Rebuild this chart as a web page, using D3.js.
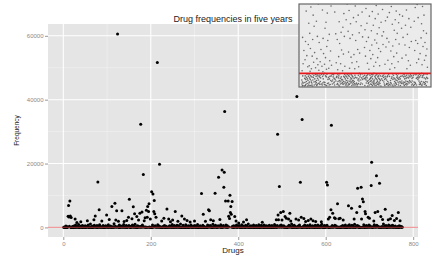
<!DOCTYPE html>
<html>
<head>
<meta charset="utf-8">
<script src="https://cdn.jsdelivr.net/npm/d3@7"></script>
<style>
  body { margin: 0; background: #fff; }
  text { font-family: "Liberation Sans", Arial, sans-serif; }
</style>
</head>
<body>
<div id="chart"></div>
<script>
// background frequency of every drug (ids 1..775)
const lowFreq = [
  60, 20, 150, 0, 40, 480, 100, 5, 220, 30, 650, 90, 15, 350, 45, 120, 0, 550, 75, 35, 260, 100, 5, 440, 65,
  15, 130, 740, 45, 85, 10, 300, 115, 25, 950, 70, 0, 190, 55, 20, 410, 95, 10, 620, 30, 110, 200, 40, 80, 520,
  5, 145, 65, 370, 25, 100, 780, 5, 50, 170, 35, 1050, 90, 20, 295, 120, 0, 460, 60, 30, 700, 85, 15, 235, 105,
  40, 590, 10, 125, 330, 70, 0, 860, 45, 115, 180, 20, 400, 95, 35, 640, 55, 5, 270, 110, 15, 490, 75, 40, 210,
  100, 25, 810, 60, 5, 155, 120, 430, 30, 90, 680, 15, 105, 240, 45, 1150, 80, 0, 360, 65, 20, 540, 115, 35, 195,
  55, 10, 750, 95, 30, 140, 470, 70, 0, 320, 110, 40, 910, 50, 15, 215, 125, 35, 570, 80, 10, 280, 100, 45, 630,
  20, 90, 165, 5, 390, 115, 50, 720, 25, 105, 450, 65, 0, 990, 85, 30, 175, 120, 10, 510, 70, 40, 250, 95, 670,
  15, 125, 345, 55, 25, 790, 100, 5, 205, 80, 45, 600, 115, 20, 425, 60, 35, 1020, 90, 5, 300, 110, 30, 560, 75,
  40, 185, 10, 730, 105, 65, 380, 20, 120, 515, 50, 0, 230, 85, 35, 840, 95, 15, 460, 70, 25, 160, 115, 45, 690,
  80, 10, 290, 100, 30, 635, 55, 0, 420, 120, 40, 775, 75, 20, 220, 110, 50, 530, 90, 5, 355, 65, 25, 950, 105,
  35, 150, 60, 580, 15, 125, 315, 45, 95, 715, 25, 5, 490, 85, 115, 195, 40, 1100, 70, 10, 265, 100, 30, 655, 55,
  20, 430, 90, 0, 810, 115, 35, 205, 75, 50, 540, 10, 105, 335, 65, 25, 745, 95, 15, 175, 120, 45, 470, 60, 5,
  615, 80, 30, 285, 110, 40, 880, 70, 5, 230, 100, 50, 505, 20, 90, 395, 55, 35, 675, 115, 10, 310, 75, 45, 560,
  25, 170, 105, 10, 790, 85, 40, 450, 65, 20, 635, 120, 30, 240, 80, 0, 1005, 95, 15, 360, 60, 35, 700, 105, 25,
  190, 70, 50, 525, 5, 125, 325, 45, 90, 845, 15, 110, 415, 60, 30, 595, 100, 5, 255, 80, 40, 730, 120, 20, 485,
  65, 35, 650, 95, 10, 210, 115, 50, 910, 75, 25, 380, 105, 5, 555, 70, 40, 295, 85, 20, 765, 60, 30, 440, 100,
  15, 620, 80, 45, 225, 110, 0, 825, 55, 25, 480, 90, 35, 165, 120, 10, 690, 65, 30, 350, 105, 45, 1075, 75, 20,
  270, 85, 55, 545, 15, 115, 405, 40, 95, 735, 5, 70, 310, 110, 30, 600, 50, 20, 195, 125, 40, 870, 60, 10, 455,
  95, 25, 665, 80, 50, 235, 105, 5, 795, 70, 35, 425, 115, 20, 515, 60, 45, 280, 90, 15, 710, 100, 30, 370, 75,
  10, 575, 120, 40, 200, 65, 25, 940, 100, 55, 340, 80, 0, 630, 110, 35, 175, 70, 15, 495, 95, 45, 755, 55, 30,
  410, 105, 10, 535, 85, 40, 300, 120, 20, 820, 65, 5, 215, 95, 35, 645, 75, 50, 385, 110, 15, 1040, 60, 25, 470,
  90, 20, 680, 100, 45, 255, 80, 5, 585, 115, 30, 435, 70, 15, 725, 95, 40, 165, 125, 10, 505, 55, 35, 345, 105,
  25, 785, 75, 50, 220, 90, 10, 610, 120, 30, 395, 65, 0, 850, 105, 40, 290, 80, 20, 550, 110, 45, 180, 70, 5,
  655, 95, 35, 460, 60, 25, 740, 115, 15, 325, 85, 55, 520, 100, 20, 1010, 75, 40, 240, 120, 10, 625, 65, 30, 415,
  85, 15, 705, 105, 45, 185, 70, 5, 800, 95, 35, 365, 115, 25, 570, 60, 50, 275, 100, 10, 690, 80, 30, 480, 120,
  20, 540, 90, 40, 210, 110, 5, 895, 70, 35, 405, 95, 15, 600, 115, 50, 305, 75, 25, 750, 105, 10, 170, 85, 45,
  510, 65, 20, 830, 120, 40, 250, 80, 5, 665, 100, 30, 380, 55, 15, 965, 90, 45, 205, 110, 25, 580, 70, 35, 440,
  100, 10, 720, 75, 50, 295, 115, 20, 530, 85, 30, 860, 105, 5, 190, 65, 40, 640, 120, 15, 350, 95, 35, 775, 60,
  25, 450, 110, 45, 595, 75, 10, 230, 120, 40, 805, 85, 20, 420, 65, 30, 675, 100, 5, 265, 80, 50, 500, 115, 15,
  735, 90, 35, 320, 60, 25, 1055, 105, 15, 475, 70, 45, 615, 125, 5, 210, 85, 30, 785, 100, 20, 390, 60, 40, 545,
  110, 10, 700, 80, 35, 255, 95, 15, 430, 120, 25, 655, 70, 45, 300, 105, 5, 520, 85, 20, 365, 115, 40, 185, 75
];

// drugs that stand out above the band
const peakDrug = [
  11, 12, 13, 15, 16, 18, 27, 31, 40, 55, 70, 73, 79, 82, 88, 99, 105, 111, 118, 120,
  122, 124, 126, 134, 139, 145, 149, 151, 157, 160, 163, 168, 172, 175, 177, 180, 183, 185, 187, 190,
  192, 193, 195, 196, 199, 202, 205, 207, 208, 209, 212, 215, 220, 225, 230, 237, 241, 245, 250, 256,
  262, 271, 277, 283, 290, 300, 316, 320, 325, 332, 334, 337, 343, 347, 355, 358, 363, 367, 368, 369,
  371, 377, 378, 380, 381, 382, 383, 384, 386, 392, 395, 401, 412, 419, 455, 487, 490, 491, 492, 494,
  497, 500, 503, 507, 510, 515, 518, 520, 532, 534, 538, 542, 544, 546, 550, 554, 560, 566, 571, 577,
  590, 602, 604, 606, 609, 612, 613, 616, 620, 622, 627, 630, 633, 640, 652, 659, 665, 671, 673, 678,
  681, 682, 684, 686, 690, 691, 697, 700, 704, 705, 710, 713, 716, 719, 723, 726, 730, 736, 743, 748,
  752, 757, 762, 766, 770
];
const peakFreq = [
  3500, 6850, 3300, 8300, 3600, 3100, 2600, 1550, 1800, 2100, 2400, 3600, 14250, 5500, 2000, 3900, 2500, 6550, 7600, 2300,
  5200, 60600, 1900, 5200, 1850, 2200, 3200, 8800, 2700, 6500, 4300, 3400, 2300, 4450, 32300, 4800, 16600, 2100, 3000, 5400,
  3200, 6550, 5000, 7400, 2600, 11200, 10500, 5000, 8400, 4300, 3200, 51650, 19800, 2000, 2900, 5800, 2600, 1800, 2300, 5000,
  1900, 3600, 2600, 2200, 1700, 2000, 10600, 4150, 1900, 5500, 5200, 2400, 2100, 10700, 15700, 2500, 18000, 12600, 17300, 36300,
  8300, 8300, 3500, 2800, 10100, 4650, 6550, 4150, 8100, 3400, 2000, 1350, 1700, 2400, 1600, 2400, 29150, 3900, 2400, 12800,
  4650, 2300, 5000, 3400, 2900, 2600, 4450, 2000, 2600, 41000, 2300, 14150, 3200, 33800, 2800, 1850, 2150, 2600, 2100, 1850,
  1800, 14150, 13300, 2600, 3200, 5500, 31970, 4450, 3000, 2800, 7400, 2700, 2900, 2300, 6750, 6000, 2600, 4650, 12300, 6550,
  12600, 2600, 8900, 8000, 5000, 4250, 3200, 2900, 13100, 20400, 2000, 4650, 16200, 5000, 13800, 3400, 2500, 5700, 2400, 2700,
  3700, 2200, 2800, 4650, 2100
];

const xTicks = [0, 200, 400, 600, 800];
const yTicks = [0, 20000, 40000, 60000];
const thresholdFreq = 125;

const peaks = new Map(peakDrug.map((d, i) => [d, peakFreq[i]]));
const data = lowFreq.map((f, i) => ({ drug: i + 1, freq: peaks.has(i + 1) ? peaks.get(i + 1) : f }));

const W = 438, H = 260;
const panel = { left: 48, right: 418, top: 24, bottom: 237 };

const svg = d3.select("#chart").append("svg")
  .attr("width", W)
  .attr("height", H);

const x = d3.scaleLinear().domain([-35, 811]).range([panel.left, panel.right]);
const y = d3.scaleLinear().domain([-3000, 63700]).range([panel.bottom, panel.top]);

// panel background
svg.append("rect")
  .attr("x", panel.left).attr("y", panel.top)
  .attr("width", panel.right - panel.left)
  .attr("height", panel.bottom - panel.top)
  .attr("fill", "#e5e5e5");

// minor grid
const minorX = [100, 300, 500, 700];
const minorY = [10000, 30000, 50000];
svg.append("g").selectAll("line").data(minorX).enter().append("line")
  .attr("x1", d => x(d)).attr("x2", d => x(d))
  .attr("y1", panel.top).attr("y2", panel.bottom)
  .attr("stroke", "#f2f2f2").attr("stroke-width", 0.6);
svg.append("g").selectAll("line").data(minorY).enter().append("line")
  .attr("y1", d => y(d)).attr("y2", d => y(d))
  .attr("x1", panel.left).attr("x2", panel.right)
  .attr("stroke", "#f2f2f2").attr("stroke-width", 0.6);

// major grid
svg.append("g").selectAll("line").data(xTicks).enter().append("line")
  .attr("x1", d => x(d)).attr("x2", d => x(d))
  .attr("y1", panel.top).attr("y2", panel.bottom)
  .attr("stroke", "#fff").attr("stroke-width", 1.1);
svg.append("g").selectAll("line").data(yTicks).enter().append("line")
  .attr("y1", d => y(d)).attr("y2", d => y(d))
  .attr("x1", panel.left).attr("x2", panel.right)
  .attr("stroke", "#fff").attr("stroke-width", 1.1);

// axes
const xAxis = svg.append("g")
  .attr("transform", "translate(0," + panel.bottom + ")")
  .call(d3.axisBottom(x).tickValues(xTicks).tickSize(3).tickPadding(1.5));
const yAxis = svg.append("g")
  .attr("transform", "translate(" + panel.left + ",0)")
  .call(d3.axisLeft(y).tickValues(yTicks).tickSize(3).tickPadding(1.5).tickFormat(d3.format("d")));
[xAxis, yAxis].forEach(a => {
  a.select(".domain").remove();
  a.selectAll("line").attr("stroke", "#999");
  a.selectAll("text").attr("fill", "#8a8a8a").style("font-size", "6px");
});

// points
svg.append("g").selectAll("circle").data(data).enter().append("circle")
  .attr("cx", d => x(d.drug))
  .attr("cy", d => y(d.freq))
  .attr("r", 1.5)
  .attr("fill", "#000");

// zero line
svg.append("line")
  .attr("x1", panel.left).attr("x2", panel.right)
  .attr("y1", y(0)).attr("y2", y(0))
  .attr("stroke", "#e34a4a").attr("stroke-opacity", 0.55).attr("stroke-width", 1.2);

// titles
svg.append("text")
  .attr("x", 233).attr("y", 22)
  .attr("text-anchor", "middle")
  .style("font-size", "9px")
  .attr("fill", "#222")
  .text("Drug frequencies in five years");

svg.append("text")
  .attr("x", 233).attr("y", 253)
  .attr("text-anchor", "middle")
  .style("font-size", "8px")
  .attr("fill", "#222")
  .text("Drugs");

svg.append("text")
  .attr("transform", "translate(19," + ((panel.top + panel.bottom) / 2) + ") rotate(-90)")
  .attr("text-anchor", "middle")
  .style("font-size", "6.5px")
  .attr("fill", "#222")
  .text("Frequency");

// inset: zoom on the low band
const inset = { left: 299, right: 431, top: 4, bottom: 87 };
const ix = d3.scaleLinear().domain([-10, 790]).range([inset.left + 1, inset.right - 1]);
const iy = d3.scaleLinear().domain([0, 800]).range([inset.bottom - 1, inset.top + 1]);

svg.append("clipPath").attr("id", "insetClip")
  .append("rect")
  .attr("x", inset.left).attr("y", inset.top)
  .attr("width", inset.right - inset.left)
  .attr("height", inset.bottom - inset.top);

const ig = svg.append("g");
ig.append("rect")
  .attr("x", inset.left).attr("y", inset.top)
  .attr("width", inset.right - inset.left)
  .attr("height", inset.bottom - inset.top)
  .attr("fill", "#ebebeb");

ig.append("g").attr("clip-path", "url(#insetClip)")
  .selectAll("circle").data(data).enter().append("circle")
  .attr("cx", d => ix(d.drug))
  .attr("cy", d => iy(d.freq))
  .attr("r", 0.8)
  .attr("fill", "#333")
  .attr("fill-opacity", 0.7);

ig.append("line")
  .attr("x1", inset.left).attr("x2", inset.right)
  .attr("y1", iy(thresholdFreq)).attr("y2", iy(thresholdFreq))
  .attr("stroke", "#e8161b").attr("stroke-width", 1.6);

ig.append("rect")
  .attr("x", inset.left).attr("y", inset.top)
  .attr("width", inset.right - inset.left)
  .attr("height", inset.bottom - inset.top)
  .attr("fill", "none")
  .attr("stroke", "#666").attr("stroke-width", 1.2);
</script>
</body>
</html>
